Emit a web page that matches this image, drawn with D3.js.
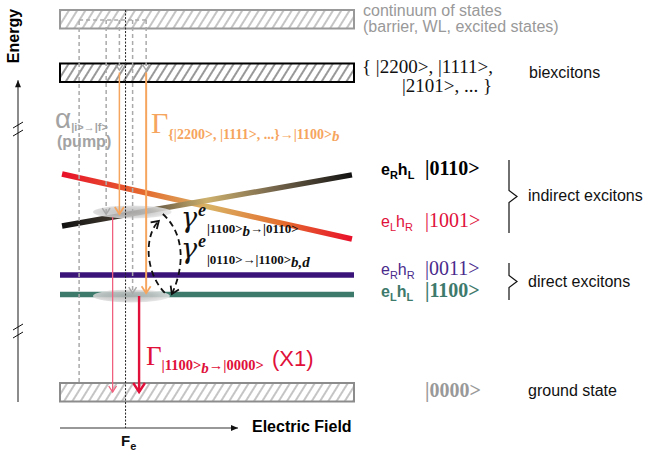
<!DOCTYPE html>
<html>
<head>
<meta charset="utf-8">
<script src="https://cdn.jsdelivr.net/npm/d3@7"></script>
<style>
body { margin: 0; background: #fff; }
</style>
</head>
<body>
<div id="chart"></div>
<script>
// ---- data (field in arb. units 0..10, energy in arb. units, schematic) ----
var fieldDomain = [0, 10];
var energyDomain = [0, 100];
var fieldFe = 2.23;

var bandNames = ["continuum", "biexcitons", "ground"];
var bandEnergy = [100, 85.66, 0];

var directKets = ["|0011>", "|1100>"];
var directEnergy = [31.37, 26.14];

var indirectKets = ["|1001>", "|0110>"];
var indirectField = [0.07, 9.93];
var indirectEnergyStart = [58.45, 44.5];
var indirectEnergyEnd = [41.02, 58.2];

// occupied states marked by grey ellipses
var spotField = [2.46, 2.43];
var spotHalfWidth = [1.34, 1.31];
var spotEnergy = [48.26, 25.74];

// pump path, dashed: field, start energy, end energy
var pumpTop = 99.73;
var pumpField = [0.65, 1.57, 2.02, 2.47, 2.93];
var pumpStart = [2.68, 99.73, 99.73, 99.73, 99.73];
var pumpEnd = [99.73, 47.7, 86.3, 26.5, 86.3];

// biexciton decay (orange)
var decayField = [2.02, 2.93];
var decayStart = [85.66, 85.66];
var decayEnd = [47.7, 26.5];

// exciton decay (red)
var emitField = [1.79, 2.69];
var emitStart = [46.9, 25.74];
var emitEnd = [0, 0];

// spin flip loop
var flipField = 3.6;

// axis breaks
var breakEnergy = [70.5, 16.35];

var W = 646, H = 454;
var SANS = "'Liberation Sans', Arial, sans-serif";
var SERIF = "'Liberation Serif', 'Times New Roman', serif";

var svg = d3.select("#chart").append("svg")
    .attr("width", W)
    .attr("height", H);

var x = d3.scaleLinear().domain(fieldDomain).range([60, 354]);
var y = d3.scaleLinear().domain(energyDomain).range([392, 19]);

var defs = svg.append("defs");

// hatch patterns
function hatch(id, color) {
    var p = defs.append("pattern")
        .attr("id", id)
        .attr("patternUnits", "userSpaceOnUse")
        .attr("width", 7).attr("height", 7)
        .attr("patternTransform", "rotate(32)");
    p.append("rect").attr("width", 7).attr("height", 7).attr("fill", "#fff");
    p.append("line").attr("x1", 1).attr("y1", 0).attr("x2", 1).attr("y2", 7)
        .attr("stroke", color).attr("stroke-width", 1);
}
hatch("hatchGrey", "#8c8c8c");
hatch("hatchDark", "#333");

// arrow markers
function marker(id, color, size, sw) {
    defs.append("marker")
        .attr("id", id)
        .attr("markerUnits", "userSpaceOnUse")
        .attr("viewBox", (-size - 2) + " " + (-size - 2) + " " + (2 * size + 4) + " " + (2 * size + 4))
        .attr("markerWidth", 2 * size + 4).attr("markerHeight", 2 * size + 4)
        .attr("refX", 0).attr("refY", 0)
        .attr("orient", "auto")
        .append("path")
        .attr("d", "M" + (-size) + "," + (-size * 0.65) + "L0,0L" + (-size) + "," + (size * 0.65))
        .attr("fill", "none")
        .attr("stroke", color)
        .attr("stroke-width", sw)
        .attr("stroke-dasharray", "none");
}
marker("arGrey", "#a8a8a8", 6, 1.5);
marker("arOrange", "#f6a55e", 7, 1.8);
marker("arPink", "#f0607e", 6, 1.3);
marker("arRed", "#e0103a", 9, 2.4);
marker("arBlack", "#111", 7, 1.8);

// gradients for the indirect exciton lines
var gradStops = [
    [["0", "#e8102a"], ["0.28", "#e56a2e"], ["0.5", "#d8b466"], ["0.75", "#e4702e"], ["1", "#e8102a"]],
    [["0", "#111"], ["0.3", "#5c5040"], ["0.5", "#cdb06c"], ["0.72", "#7a6a4e"], ["1", "#111"]]
];
indirectKets.forEach(function (k, i) {
    var g = defs.append("linearGradient")
        .attr("id", "ind" + i)
        .attr("gradientUnits", "userSpaceOnUse")
        .attr("x1", x(indirectField[0])).attr("y1", y(indirectEnergyStart[i]))
        .attr("x2", x(indirectField[1])).attr("y2", y(indirectEnergyEnd[i]));
    gradStops[i].forEach(function (s) {
        g.append("stop").attr("offset", s[0]).attr("stop-color", s[1]);
    });
});

var spotGrad = defs.append("radialGradient").attr("id", "spot")
    .attr("cx", "45%").attr("cy", "50%").attr("r", "55%");
spotGrad.append("stop").attr("offset", "0").attr("stop-color", "#b4b4b4");
spotGrad.append("stop").attr("offset", "0.6").attr("stop-color", "#cacaca");
spotGrad.append("stop").attr("offset", "1").attr("stop-color", "#e6e6e6");

// ---- bands (hatched boxes) ----
var bandStroke = ["#999", "#000", "#8c8c8c"];
var bandFill = ["url(#hatchGrey)", "url(#hatchDark)", "url(#hatchGrey)"];
svg.selectAll("rect.band")
    .data(bandNames)
    .enter().append("rect")
    .attr("class", "band")
    .attr("x", x(fieldDomain[0]))
    .attr("width", x(fieldDomain[1]) - x(fieldDomain[0]))
    .attr("y", function (d, i) { return y(bandEnergy[i]) - 9; })
    .attr("height", 18.5)
    .attr("fill", function (d, i) { return bandFill[i]; })
    .attr("stroke", function (d, i) { return bandStroke[i]; })
    .attr("stroke-width", 2);

// ---- direct exciton levels ----
var directColor = ["#3b1479", "#3e7a6c"];
svg.selectAll("line.direct")
    .data(directKets)
    .enter().append("line")
    .attr("class", "direct")
    .attr("x1", x(fieldDomain[0])).attr("x2", x(fieldDomain[1]))
    .attr("y1", function (d, i) { return y(directEnergy[i]); })
    .attr("y2", function (d, i) { return y(directEnergy[i]); })
    .attr("stroke", function (d, i) { return directColor[i]; })
    .attr("stroke-width", 5.5);

// ---- indirect exciton levels ----
svg.selectAll("line.indirect")
    .data(indirectKets)
    .enter().append("line")
    .attr("class", "indirect")
    .attr("x1", x(indirectField[0])).attr("x2", x(indirectField[1]))
    .attr("y1", function (d, i) { return y(indirectEnergyStart[i]); })
    .attr("y2", function (d, i) { return y(indirectEnergyEnd[i]); })
    .attr("stroke", function (d, i) { return "url(#ind" + i + ")"; })
    .attr("stroke-width", 5.5);

// ---- occupied spots ----
svg.selectAll("ellipse.spot")
    .data(spotEnergy)
    .enter().append("ellipse")
    .attr("class", "spot")
    .attr("cx", function (d, i) { return x(spotField[i]); })
    .attr("cy", function (d) { return y(d); })
    .attr("rx", function (d, i) { return x(spotHalfWidth[i]) - x(0); })
    .attr("ry", 6.5)
    .attr("fill", "url(#spot)")
    .attr("opacity", 0.85);

// ---- pump (dashed grey) ----
svg.append("line")
    .attr("x1", x(pumpField[0])).attr("x2", x(pumpField[pumpField.length - 1]))
    .attr("y1", y(pumpTop)).attr("y2", y(pumpTop))
    .attr("stroke", "#aaa").attr("stroke-width", 1.5).attr("stroke-dasharray", "4,3");
svg.selectAll("line.pump")
    .data(pumpField)
    .enter().append("line")
    .attr("class", "pump")
    .attr("x1", function (d) { return x(d); }).attr("x2", function (d) { return x(d); })
    .attr("y1", function (d, i) { return y(pumpStart[i]); })
    .attr("y2", function (d, i) { return y(pumpEnd[i]); })
    .attr("stroke", "#aaa").attr("stroke-width", 1.5).attr("stroke-dasharray", "4,3")
    .attr("marker-end", function (d, i) { return i > 0 ? "url(#arGrey)" : null; });

// ---- field Fe (dotted) ----
svg.append("line")
    .attr("x1", x(fieldFe)).attr("x2", x(fieldFe))
    .attr("y1", y(102.4)).attr("y2", y(-9.65))
    .attr("stroke", "#222").attr("stroke-width", 1).attr("stroke-dasharray", "2,1.5");

// ---- biexciton decay (orange) ----
svg.selectAll("line.decay")
    .data(decayField)
    .enter().append("line")
    .attr("class", "decay")
    .attr("x1", function (d) { return x(d); }).attr("x2", function (d) { return x(d); })
    .attr("y1", function (d, i) { return y(decayStart[i]); })
    .attr("y2", function (d, i) { return y(decayEnd[i]); })
    .attr("stroke", "#f6a55e")
    .attr("stroke-width", function (d, i) { return i ? 2 : 1.5; })
    .attr("marker-end", "url(#arOrange)");

// ---- exciton emission (red) ----
svg.selectAll("line.emit")
    .data(emitField)
    .enter().append("line")
    .attr("class", "emit")
    .attr("x1", function (d) { return x(d); }).attr("x2", function (d) { return x(d); })
    .attr("y1", function (d, i) { return y(emitStart[i]); })
    .attr("y2", function (d, i) { return y(emitEnd[i]); })
    .attr("stroke", function (d, i) { return i ? "#e0103a" : "#f0607e"; })
    .attr("stroke-width", function (d, i) { return i ? 2.4 : 1.3; })
    .attr("marker-end", function (d, i) { return i ? "url(#arRed)" : "url(#arPink)"; });

// ---- spin flip loop (dashed black arrows) ----
var fx = x(flipField), yTop = y(spotEnergy[0]), yBot = y(spotEnergy[1]);
svg.append("path")
    .attr("d", "M" + (fx - 1) + "," + (yBot - 3) +
        "C" + (fx - 22) + "," + (yBot - 25) + " " + (fx - 21) + "," + (yTop + 22) + " " + (fx - 7) + "," + (yTop + 9))
    .attr("fill", "none").attr("stroke", "#111").attr("stroke-width", 1.8)
    .attr("stroke-dasharray", "6,4").attr("marker-end", "url(#arBlack)");
svg.append("path")
    .attr("d", "M" + (fx - 3) + "," + (yTop + 2) +
        "C" + (fx + 19) + "," + (yTop + 22) + " " + (fx + 19) + "," + (yBot - 30) + " " + (fx + 6) + "," + (yBot - 2))
    .attr("fill", "none").attr("stroke", "#111").attr("stroke-width", 1.8)
    .attr("stroke-dasharray", "6,4").attr("marker-end", "url(#arBlack)");

// ---- axes ----
defs.append("marker").attr("id", "axArrow")
    .attr("markerUnits", "userSpaceOnUse")
    .attr("viewBox", "-8 -4 8 8").attr("markerWidth", 8).attr("markerHeight", 8)
    .attr("refX", 0).attr("refY", 0).attr("orient", "auto")
    .append("path").attr("d", "M-7,-3L0,0L-7,3Z").attr("fill", "#111");

svg.append("line")
    .attr("x1", 18).attr("x2", 18)
    .attr("y1", y(-2.68)).attr("y2", y(83.6))
    .attr("stroke", "#666").attr("stroke-width", 1.5)
    .attr("marker-end", "url(#axArrow)");
svg.append("line")
    .attr("x1", x(fieldDomain[0])).attr("x2", 238)
    .attr("y1", y(-9.65)).attr("y2", y(-9.65))
    .attr("stroke", "#333").attr("stroke-width", 1.2)
    .attr("marker-end", "url(#axArrow)");

// axis breaks
breakEnergy.forEach(function (e) {
    [-4, 4].forEach(function (o) {
        svg.append("line")
            .attr("x1", 13).attr("x2", 23)
            .attr("y1", y(e) + o + 3).attr("y2", y(e) + o - 3)
            .attr("stroke", "#111").attr("stroke-width", 1);
    });
});

svg.append("text")
    .attr("transform", "translate(19,36) rotate(-90)")
    .attr("text-anchor", "middle")
    .style("font-family", SANS).style("font-size", "16px").style("font-weight", "bold")
    .text("Energy");

svg.append("text")
    .attr("x", 252).attr("y", 432)
    .style("font-family", SANS).style("font-size", "16px").style("font-weight", "bold")
    .text("Electric Field");

// ---- rich text helper ----
function rich(px, py, color, parts) {
    var t = svg.append("text").attr("x", px).attr("y", py).attr("fill", color);
    parts.forEach(function (p) {
        var s = t.append("tspan").text(p.t)
            .style("font-size", p.size + "px")
            .style("font-family", p.fam || SERIF);
        if (p.w) s.style("font-weight", p.w);
        if (p.i) s.style("font-style", "italic");
        if (p.x != null) s.attr("x", p.x);
        if (p.dy) s.attr("dy", p.dy);
        if (p.dx) s.attr("dx", p.dx);
    });
    return t;
}

rich(121, 446, "#111", [
    {t: "F", size: 15, fam: SANS, w: "bold"},
    {t: "e", size: 11, fam: SANS, w: "bold", dy: 4}
]);

// ---- right hand labels ----
var labelX = 381, ketX = 425;
rich(labelX, 175, "#000", [
    {t: "e", size: 16, fam: SANS, w: "bold"},
    {t: "R", size: 11, fam: SANS, w: "bold", dy: 4},
    {t: "h", size: 16, fam: SANS, w: "bold", dy: -4},
    {t: "L", size: 11, fam: SANS, w: "bold", dy: 4}
]);
rich(ketX, 175, "#000", [{t: indirectKets[1], size: 20, w: "bold"}]);

rich(labelX, 227, "#e0103a", [
    {t: "e", size: 16, fam: SANS},
    {t: "L", size: 11, fam: SANS, dy: 4},
    {t: "h", size: 16, fam: SANS, dy: -4},
    {t: "R", size: 11, fam: SANS, dy: 4}
]);
rich(ketX, 227, "#e0103a", [{t: indirectKets[0], size: 20}]);

rich(labelX, 275, "#4a2b8c", [
    {t: "e", size: 16, fam: SANS},
    {t: "R", size: 11, fam: SANS, dy: 4},
    {t: "h", size: 16, fam: SANS, dy: -4},
    {t: "R", size: 11, fam: SANS, dy: 4}
]);
rich(ketX, 275, "#4a2b8c", [{t: directKets[0], size: 20}]);

rich(labelX, 297, "#3e7a6c", [
    {t: "e", size: 16, fam: SANS, w: "bold"},
    {t: "L", size: 11, fam: SANS, w: "bold", dy: 4},
    {t: "h", size: 16, fam: SANS, w: "bold", dy: -4},
    {t: "L", size: 11, fam: SANS, w: "bold", dy: 4}
]);
rich(ketX, 297, "#3e7a6c", [{t: directKets[1], size: 20, w: "bold"}]);

rich(ketX, 397, "#999", [{t: "|0000>", size: 20, w: "bold"}]);

// braces
function brace(y1, y2) {
    var ym = (y1 + y2) / 2;
    svg.append("path")
        .attr("d", "M509," + y1 + "V" + (ym - 6) + "L517," + ym + "L509," + (ym + 6) + "V" + y2)
        .attr("fill", "none").attr("stroke", "#111").attr("stroke-width", 1.2);
}
brace(160, 233);
brace(263, 300);

function plain(px, py, txt, color) {
    svg.append("text").attr("x", px).attr("y", py).attr("fill", color)
        .style("font-family", SANS).style("font-size", "16px").text(txt);
}
plain(528, 201, "indirect excitons", "#111");
plain(528, 287, "direct excitons", "#111");
plain(528, 396, "ground state", "#111");
plain(529, 78, "biexcitons", "#111");
plain(363, 16, "continuum of states", "#999");
plain(363, 32, "(barrier, WL, excited states)", "#999");

rich(362, 73, "#111", [{t: "{ |2200>, |1111>,", size: 19}]);
rich(402, 92, "#111", [{t: "|2101>, ... }", size: 19}]);

// ---- transition labels ----
rich(55, 128, "#a3a3a3", [
    {t: "α", size: 28, fam: SANS},
    {t: "|i>→|f>", size: 11, fam: SANS, w: "bold", dy: 3}
]);
svg.append("text").attr("x", 57).attr("y", 147).attr("fill", "#a3a3a3")
    .style("font-family", SANS).style("font-size", "16px").style("font-weight", "bold")
    .text("(pump)");

rich(151, 133, "#f6a55e", [
    {t: "Γ", size: 30},
    {t: "{|2200>, |1111>, ...}→|1100>", size: 14, w: "bold", dy: 6},
    {t: "b", size: 15, w: "bold", i: true, dy: 2}
]);

var GAMMA = "'DejaVu Serif', serif";
rich(181, 227, "#111", [
    {t: "γ", size: 27, i: true, fam: GAMMA},
    {t: "e", size: 18, w: "bold", i: true, dy: -11, x: 198},
    {t: "|1100>", size: 13, w: "bold", dy: 17, x: 207},
    {t: "b", size: 15, w: "bold", i: true, dy: 3},
    {t: "→|0110>", size: 13, w: "bold", dy: -3}
]);
rich(181, 258, "#111", [
    {t: "γ", size: 27, i: true, fam: GAMMA},
    {t: "e", size: 18, w: "bold", i: true, dy: -11, x: 198},
    {t: "|0110>→|1100>", size: 13, w: "bold", dy: 17, x: 207},
    {t: "b,d", size: 15, w: "bold", i: true, dy: 3}
]);

rich(146, 365, "#e0103a", [
    {t: "Γ", size: 27},
    {t: "|1100>", size: 14.5, w: "bold", dy: 5},
    {t: "b", size: 15, w: "bold", i: true, dy: 3},
    {t: "→|0000>", size: 14.5, w: "bold", dy: -3}
]);
svg.append("text").attr("x", 272).attr("y", 366).attr("fill", "#e0103a")
    .style("font-family", SANS).style("font-size", "22px")
    .text("(X1)");
</script>
</body>
</html>
